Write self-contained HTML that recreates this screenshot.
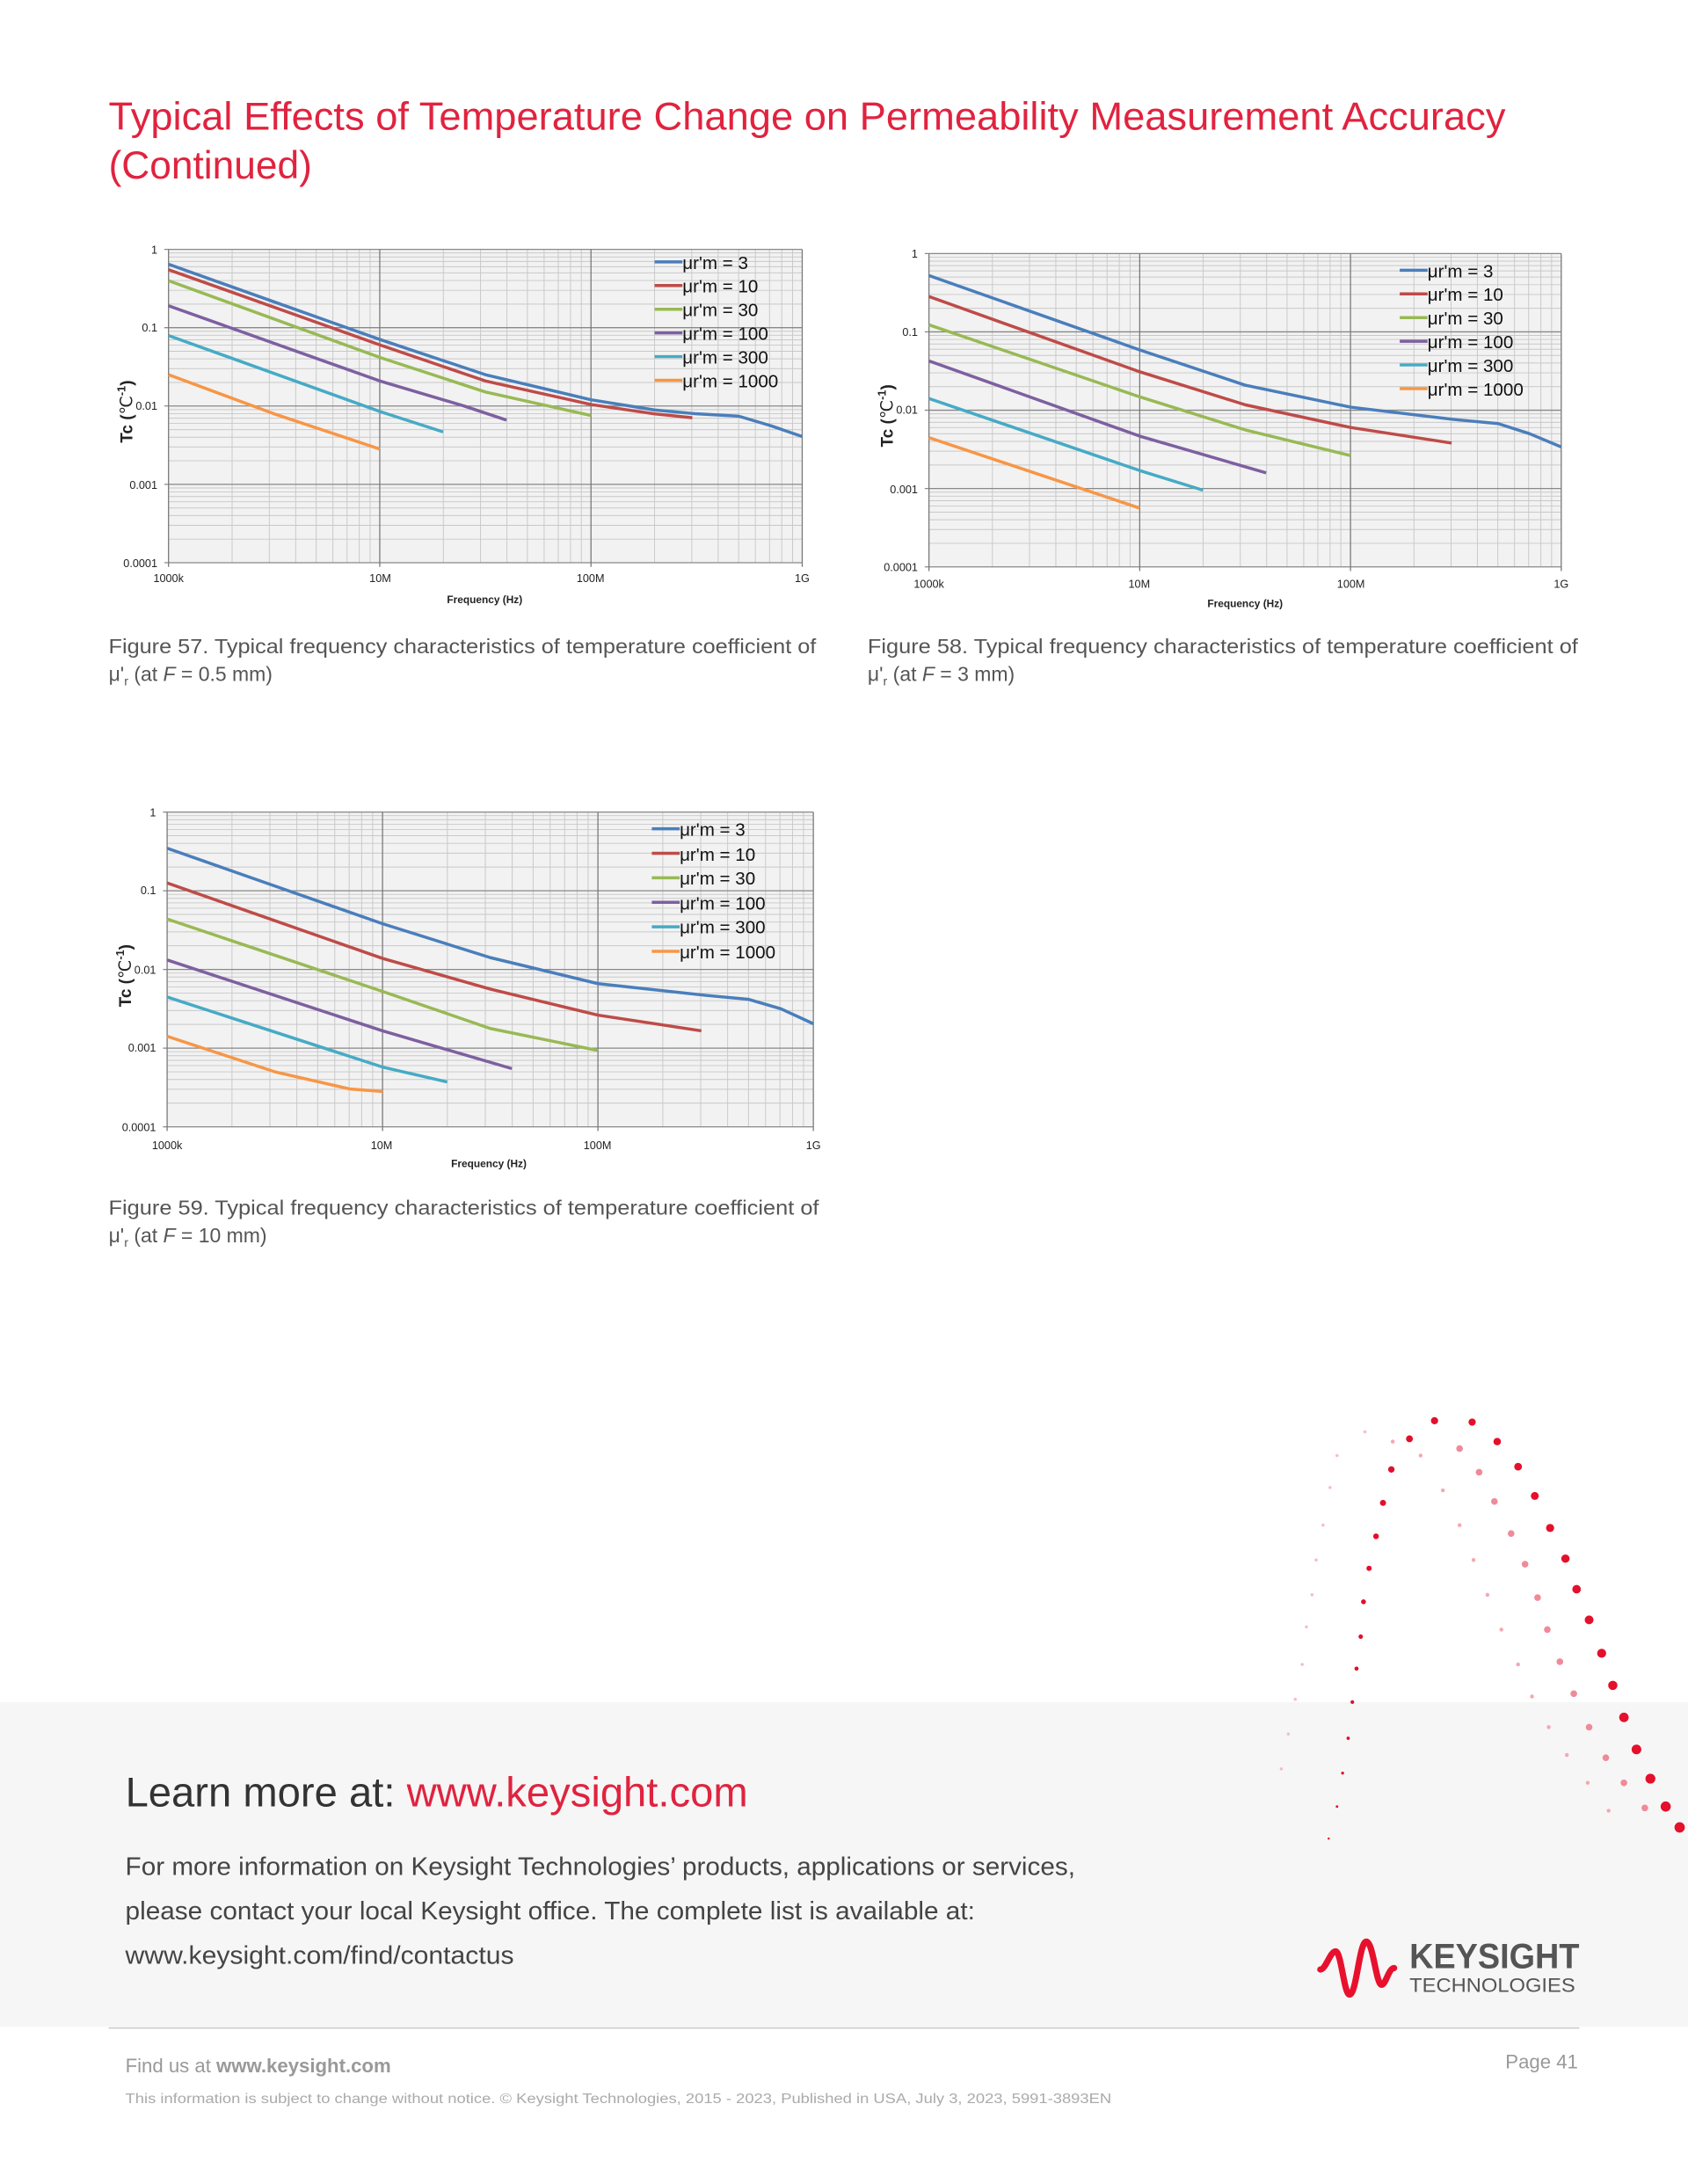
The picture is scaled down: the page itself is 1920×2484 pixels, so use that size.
<!DOCTYPE html>
<html><head><meta charset="utf-8"><style>
html,body{margin:0;padding:0;background:#fff}
svg{display:block}
text{font-family:"Liberation Sans",sans-serif}
</style></head><body>
<svg id="s" xmlns="http://www.w3.org/2000/svg" width="1920" height="2484" viewBox="0 0 1212 1568">
<rect x="0" y="0" width="1212" height="1568" fill="#fff"/>
<rect x="0" y="1222" width="1212" height="233" fill="#f6f6f6"/>
<g id="dots"></g>
<text x="78" y="93" font-size="28" fill="#e0233f" textLength="1003" lengthAdjust="spacingAndGlyphs">Typical Effects of Temperature Change on Permeability Measurement Accuracy</text>
<text x="78" y="128" font-size="28" fill="#e0233f" textLength="146" lengthAdjust="spacingAndGlyphs">(Continued)</text>
<g id="c1"></g><g id="c2"></g><g id="c3"></g>
<g font-size="14.5" fill="#555">
<text x="78" y="469" textLength="508" lengthAdjust="spacingAndGlyphs">Figure 57. Typical frequency characteristics of temperature coefficient of</text>
<text x="78" y="489">μ'<tspan font-size="9" dy="3">r</tspan><tspan dy="-3"> (at </tspan><tspan font-style="italic">F</tspan> = 0.5 mm)</text>
<text x="623" y="469" textLength="510" lengthAdjust="spacingAndGlyphs">Figure 58. Typical frequency characteristics of temperature coefficient of</text>
<text x="623" y="489">μ'<tspan font-size="9" dy="3">r</tspan><tspan dy="-3"> (at </tspan><tspan font-style="italic">F</tspan> = 3 mm)</text>
<text x="78" y="872" textLength="510" lengthAdjust="spacingAndGlyphs">Figure 59. Typical frequency characteristics of temperature coefficient of</text>
<text x="78" y="892">μ'<tspan font-size="9" dy="3">r</tspan><tspan dy="-3"> (at </tspan><tspan font-style="italic">F</tspan> = 10 mm)</text>
</g>
<text x="90" y="1297" font-size="30" fill="#333" textLength="447" lengthAdjust="spacingAndGlyphs">Learn more at: <tspan fill="#e0233f">www.keysight.com</tspan></text>
<g font-size="18" fill="#444">
<text x="90" y="1346" textLength="682" lengthAdjust="spacingAndGlyphs">For more information on Keysight Technologies’ products, applications or services,</text>
<text x="90" y="1378" textLength="610" lengthAdjust="spacingAndGlyphs">please contact your local Keysight office. The complete list is available at:</text>
<text x="90" y="1410" textLength="279" lengthAdjust="spacingAndGlyphs">www.keysight.com/find/contactus</text>
</g>
<path d="M948 1414 C952 1414 955 1401 959 1401 C963 1401 965 1432 969 1432 C974 1432 976 1394 981 1394 C986 1394 988 1425 992 1425 C995 1425 997 1413 1001 1413" fill="none" stroke="#e8112d" stroke-width="4.5" stroke-linecap="round"/>
<text x="1012" y="1413" font-size="25" font-weight="bold" fill="#555" textLength="122" lengthAdjust="spacingAndGlyphs">KEYSIGHT</text>
<text x="1012" y="1430" font-size="14" fill="#555" textLength="119" lengthAdjust="spacingAndGlyphs">TECHNOLOGIES</text>
<line x1="78" y1="1456" x2="1134" y2="1456" stroke="#ccc" stroke-width="1"/>
<text x="90" y="1488" font-size="14" fill="#999">Find us at <tspan font-weight="bold">www.keysight.com</tspan></text>
<text x="1133" y="1485" font-size="14" fill="#999" text-anchor="end">Page 41</text>
<text x="90" y="1510" font-size="10" fill="#aaa" textLength="708" lengthAdjust="spacingAndGlyphs">This information is subject to change without notice. © Keysight Technologies, 2015 - 2023, Published in USA, July 3, 2023, 5991-3893EN</text>

<g font-size="8" fill="#222" text-anchor="end">
<text x="113" y="182">1</text><text x="113" y="238">0.1</text><text x="113" y="294">0.01</text><text x="113" y="351">0.001</text><text x="113" y="407">0.0001</text>
<text x="659" y="185">1</text><text x="659" y="241">0.1</text><text x="659" y="297">0.01</text><text x="659" y="354">0.001</text><text x="659" y="410">0.0001</text>
<text x="112" y="586">1</text><text x="112" y="642">0.1</text><text x="112" y="699">0.01</text><text x="112" y="755">0.001</text><text x="112" y="812">0.0001</text>
</g>
<g font-size="8" fill="#222" text-anchor="middle">
<text x="121" y="418">1000k</text><text x="273" y="418">10M</text><text x="424" y="418">100M</text><text x="576" y="418">1G</text>
<text x="348" y="433" font-weight="bold" font-size="7.5">Frequency (Hz)</text>
<text x="667" y="422">1000k</text><text x="818" y="422">10M</text><text x="970" y="422">100M</text><text x="1121" y="422">1G</text>
<text x="894" y="436" font-weight="bold" font-size="7.5">Frequency (Hz)</text>
<text x="120" y="825">1000k</text><text x="274" y="825">10M</text><text x="429" y="825">100M</text><text x="584" y="825">1G</text>
<text x="351" y="838" font-weight="bold" font-size="7.5">Frequency (Hz)</text>
</g>
<g font-size="12" font-weight="bold" fill="#222">
<text transform="translate(95,318) rotate(-90)">Tc (<tspan font-weight="normal">℃</tspan><tspan font-size="8" dy="-5">-1</tspan><tspan dy="5">)</tspan></text>
<text transform="translate(641,321) rotate(-90)">Tc (<tspan font-weight="normal">℃</tspan><tspan font-size="8" dy="-5">-1</tspan><tspan dy="5">)</tspan></text>
<text transform="translate(94,723) rotate(-90)">Tc (<tspan font-weight="normal">℃</tspan><tspan font-size="8" dy="-5">-1</tspan><tspan dy="5">)</tspan></text>
</g>
<g id="leg" font-size="13" fill="#111">
<text x="490" y="193">μr'm = 3</text><text x="490" y="210">μr'm = 10</text><text x="490" y="227">μr'm = 30</text><text x="490" y="244">μr'm = 100</text><text x="490" y="261">μr'm = 300</text><text x="490" y="278">μr'm = 1000</text>
<text x="1025" y="199">μr'm = 3</text><text x="1025" y="216">μr'm = 10</text><text x="1025" y="233">μr'm = 30</text><text x="1025" y="250">μr'm = 100</text><text x="1025" y="267">μr'm = 300</text><text x="1025" y="284">μr'm = 1000</text>
<text x="488" y="600">μr'm = 3</text><text x="488" y="618">μr'm = 10</text><text x="488" y="635">μr'm = 30</text><text x="488" y="653">μr'm = 100</text><text x="488" y="670">μr'm = 300</text><text x="488" y="688">μr'm = 1000</text>
</g>
</svg>
<script>
var NS="http://www.w3.org/2000/svg";
function el(p,t,a){var e=document.createElementNS(NS,t);for(var k in a)e.setAttribute(k,a[k]);p.appendChild(e);return e;}
var COL=["#4a7ebb","#be4b48","#98b954","#7d60a0","#46aac5","#f79646"];
function chart(id,x0,y0,x1,y1,series,lx,ly,ld){
 var g=document.getElementById(id),w=x1-x0,h=y1-y0;
 el(g,"rect",{x:x0,y:y0,width:w,height:h,fill:"#f2f2f2"});
 for(var d=0;d<4;d++)for(var k=2;k<10;k++){var y=y1-(d+Math.log10(k))*h/4;el(g,"line",{x1:x0,x2:x1,y1:y,y2:y,stroke:"#c8c8c8","stroke-width":0.6});}
 for(var d=0;d<3;d++)for(var k=2;k<10;k++){var x=x0+(d+Math.log10(k))*w/3;el(g,"line",{x1:x,x2:x,y1:y0,y2:y1,stroke:"#c8c8c8","stroke-width":0.6});}
 for(var d=0;d<=4;d++){var y=y0+d*h/4;el(g,"line",{x1:x0-3,x2:x1,y1:y,y2:y,stroke:"#888","stroke-width":0.8});}
 for(var d=0;d<=3;d++){var x=x0+d*w/3;el(g,"line",{x1:x,x2:x,y1:y0,y2:y1+3,stroke:"#777","stroke-width":0.8});}
 series.forEach(function(s,i){var p=s.map(function(q){return (x0+q[0]*w/3).toFixed(1)+","+(y0-q[1]*h/4).toFixed(1)}).join(" ");
  el(g,"polyline",{points:p,fill:"none",stroke:COL[i],"stroke-width":2.2,"stroke-linejoin":"round"});
  el(g,"line",{x1:lx,x2:lx+20,y1:ly+i*ld,y2:ly+i*ld,stroke:COL[i],"stroke-width":2.2});});
}
chart("c1",121,179,576,404,[
[[0,-0.19],[0.5,-0.67],[1,-1.15],[1.5,-1.6],[2,-1.92],[2.3,-2.05],[2.5,-2.1],[2.7,-2.13],[2.85,-2.25],[3,-2.39]],
[[0,-0.26],[1,-1.22],[1.5,-1.68],[2,-1.98],[2.3,-2.1],[2.48,-2.15]],
[[0,-0.4],[1,-1.38],[1.5,-1.82],[2,-2.12]],
[[0,-0.72],[1,-1.68],[1.4,-2.0],[1.6,-2.18]],
[[0,-1.1],[1,-2.07],[1.3,-2.33]],
[[0,-1.6],[0.5,-2.1],[1,-2.55]]],470,188,17);
chart("c2",667,182,1121,407,[
[[0,-0.28],[1,-1.23],[1.5,-1.68],[2,-1.96],[2.5,-2.12],[2.7,-2.17],[2.85,-2.3],[3,-2.47]],
[[0,-0.55],[1,-1.51],[1.5,-1.93],[2,-2.22],[2.48,-2.42]],
[[0,-0.91],[1,-1.83],[1.5,-2.25],[2,-2.58]],
[[0,-1.37],[1,-2.33],[1.6,-2.8]],
[[0,-1.85],[1,-2.77],[1.3,-3.02]],
[[0,-2.35],[1,-3.25]]],1005,194,17);
chart("c3",120,583,584,809,[
[[0,-0.46],[1,-1.42],[1.5,-1.85],[2,-2.18],[2.5,-2.33],[2.7,-2.38],[2.85,-2.5],[3,-2.69]],
[[0,-0.9],[1,-1.86],[1.5,-2.25],[2,-2.58],[2.48,-2.78]],
[[0,-1.36],[1,-2.28],[1.5,-2.75],[2,-3.03]],
[[0,-1.88],[1,-2.78],[1.6,-3.26]],
[[0,-2.35],[1,-3.24],[1.3,-3.43]],
[[0,-2.85],[0.5,-3.3],[0.85,-3.52],[1,-3.55]]],468,595,17.6);
var dg=document.getElementById("dots");
var a=[[1030,1020],[1012,1033],[999,1055],[993,1079],[988,1103],[983,1126],[979,1150],[977,1175],[974,1198],[971,1222],[968,1248],[964,1273],[960,1297],[954,1320]];
a.forEach(function(p,i){el(dg,"circle",{cx:p[0],cy:p[1],r:Math.max(0.6,2.6-i*0.14),fill:"#e0102c"});});
var b=[[1057,1021],[1075,1035],[1090,1053],[1102,1074],[1113,1097],[1124,1119],[1132,1141],[1141,1163],[1150,1187],[1158,1210],[1166,1233],[1175,1256],[1185,1277],[1196,1297],[1206,1312]];
b.forEach(function(p,i){el(dg,"circle",{cx:p[0],cy:p[1],r:2.6+i*0.08,fill:"#e4102c"});});
var c=[[1048,1040],[1062,1057],[1073,1078],[1085,1101],[1095,1123],[1104,1147],[1111,1170],[1120,1193],[1130,1216],[1141,1240],[1153,1262],[1166,1280],[1181,1298]];
c.forEach(function(p,i){el(dg,"circle",{cx:p[0],cy:p[1],r:2.4,fill:"#f08a98"});});
var d=[[1000,1035],[1020,1045],[1036,1070],[1048,1095],[1058,1120],[1068,1145],[1078,1170],[1090,1195],[1100,1218],[1112,1240],[1125,1260],[1140,1280],[1155,1300]];
d.forEach(function(p,i){el(dg,"circle",{cx:p[0],cy:p[1],r:1.4,fill:"#f4a8b2"});});
var e=[[980,1028],[960,1045],[955,1068],[950,1095],[945,1120],[942,1145],[938,1168],[935,1195],[930,1220],[925,1245],[920,1270]];
e.forEach(function(p,i){el(dg,"circle",{cx:p[0],cy:p[1],r:1.1,fill:"#f6bcc4"});});
</script>
</body></html>
